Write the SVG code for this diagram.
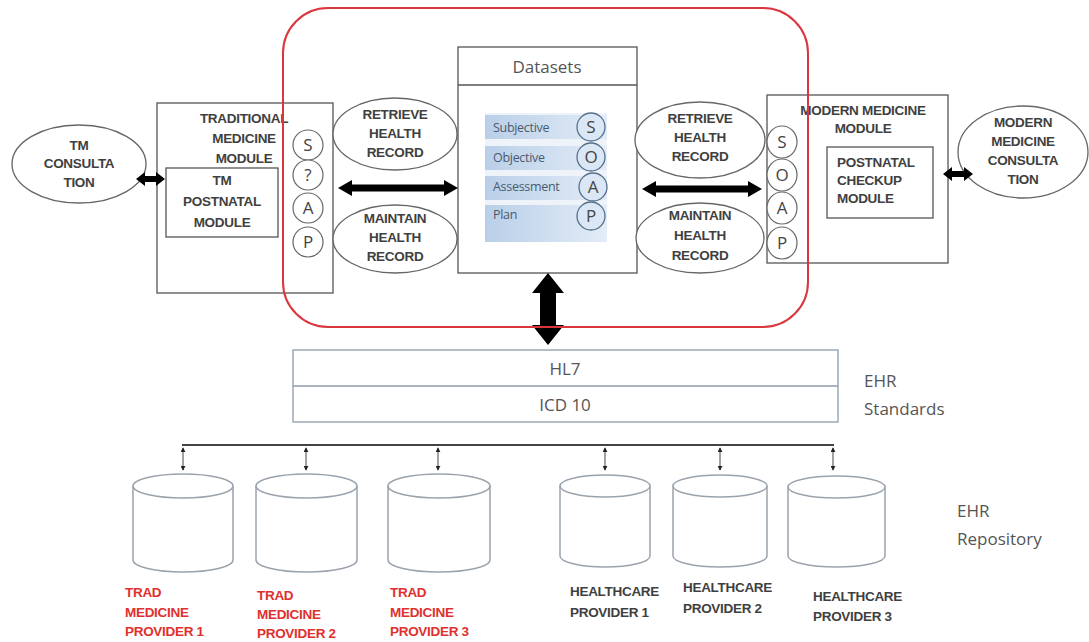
<svg xmlns="http://www.w3.org/2000/svg" width="1089" height="642" viewBox="0 0 1089 642">
<defs>
<style>
.box{fill:none;stroke:#555;stroke-width:1.3}
.ell{fill:#fff;stroke:#666;stroke-width:1.3}
.lbl{font-family:"Liberation Sans",Arial,sans-serif;font-weight:bold;font-size:13.5px;fill:#3f3f3f;letter-spacing:-0.3px}
.red{font-family:"Liberation Sans",Arial,sans-serif;font-weight:bold;font-size:13.5px;fill:#e0302e;letter-spacing:-0.3px}
.soap{fill:#fff;stroke:#666;stroke-width:1.2}
.soapt{font-family:"Open Sans","Liberation Sans",sans-serif;font-size:17px;fill:#444;text-anchor:middle}
.dsc{fill:#dbe7f4;stroke:#55708c;stroke-width:1.3}
.dst{font-family:"Open Sans","Liberation Sans",sans-serif;font-size:12.5px;fill:#4a5a6e;letter-spacing:-0.3px}
.big{font-family:"Open Sans","Liberation Sans",sans-serif;font-size:17px;fill:#555}
.cyl{fill:#fff;stroke:#9aa3ad;stroke-width:1.5}
.arr{fill:#000}
.mid{text-anchor:middle}
</style>
<linearGradient id="band" x1="0" y1="0" x2="1" y2="0">
<stop offset="0" stop-color="#b9cfe8"/>
<stop offset="1" stop-color="#e3ecf7"/>
</linearGradient>
<marker id="dot" viewBox="0 0 6 6" refX="5" refY="3" markerWidth="5" markerHeight="5" orient="auto-start-reverse" markerUnits="userSpaceOnUse">
<path d="M0 0 L6 3 L0 6 Z" fill="#222"/>
</marker>
</defs>
<rect width="1089" height="642" fill="#fff"/>

<g id="tm-consultation">
<ellipse class="ell" cx="79" cy="164" rx="67" ry="39"/>
<text class="lbl mid" x="79" y="150">TM</text>
<text class="lbl mid" x="79" y="168">CONSULTA</text>
<text class="lbl mid" x="79" y="187">TION</text>
</g>

<g id="tm-module">
<rect class="box" x="157" y="103" width="176" height="190"/>
<text class="lbl mid" x="244" y="123">TRADITIONAL</text>
<text class="lbl mid" x="244" y="143">MEDICINE</text>
<text class="lbl mid" x="244" y="163">MODULE</text>
<g id="tm-postnatal">
<rect class="box" x="166" y="168" width="112" height="69"/>
<text class="lbl mid" x="222" y="185">TM</text>
<text class="lbl mid" x="222" y="206">POSTNATAL</text>
<text class="lbl mid" x="222" y="227">MODULE</text>
</g>
<g id="tm-soap">
<ellipse class="soap" cx="308" cy="145" rx="15" ry="15"/>
<ellipse class="soap" cx="308" cy="175" rx="15" ry="15"/>
<ellipse class="soap" cx="308" cy="208" rx="15" ry="15"/>
<ellipse class="soap" cx="308" cy="242" rx="15" ry="15"/>
<text class="soapt" x="308" y="151">S</text>
<text class="soapt" x="308" y="181">?</text>
<text class="soapt" x="308" y="214">A</text>
<text class="soapt" x="308" y="248">P</text>
</g>
</g>

<g id="retrieve-left">
<ellipse class="ell" cx="395" cy="134" rx="62" ry="36"/>
<text class="lbl mid" x="395" y="119">RETRIEVE</text>
<text class="lbl mid" x="395" y="138">HEALTH</text>
<text class="lbl mid" x="395" y="157">RECORD</text>
</g>
<g id="maintain-left">
<ellipse class="ell" cx="395" cy="239" rx="62" ry="34"/>
<text class="lbl mid" x="395" y="223">MAINTAIN</text>
<text class="lbl mid" x="395" y="242">HEALTH</text>
<text class="lbl mid" x="395" y="261">RECORD</text>
</g>

<g id="datasets">
<rect x="458" y="47" width="179" height="226" fill="#fff" stroke="#555" stroke-width="1.3"/>
<line x1="458" y1="85" x2="637" y2="85" stroke="#555" stroke-width="1.3"/>
<text class="big mid" x="547" y="73">Datasets</text>
<rect x="485" y="113" width="122" height="129" fill="#eef3fa"/>
<rect x="485" y="115" width="122" height="24" fill="url(#band)"/>
<rect x="485" y="146" width="122" height="24" fill="url(#band)"/>
<rect x="485" y="176" width="122" height="24" fill="url(#band)"/>
<rect x="485" y="205" width="122" height="37" fill="url(#band)"/>
<text class="dst" x="493" y="132">Subjective</text>
<text class="dst" x="493" y="162">Objective</text>
<text class="dst" x="493" y="191">Assessment</text>
<text class="dst" x="493" y="219">Plan</text>
<circle class="dsc" cx="591" cy="127" r="14"/>
<circle class="dsc" cx="591" cy="157" r="14"/>
<circle class="dsc" cx="593" cy="187" r="14"/>
<circle class="dsc" cx="591" cy="216" r="14"/>
<text class="soapt" x="591" y="133">S</text>
<text class="soapt" x="591" y="163">O</text>
<text class="soapt" x="593" y="193">A</text>
<text class="soapt" x="591" y="222">P</text>
</g>

<g id="retrieve-right">
<ellipse class="ell" cx="700" cy="140" rx="65" ry="38"/>
<text class="lbl mid" x="700" y="123">RETRIEVE</text>
<text class="lbl mid" x="700" y="142">HEALTH</text>
<text class="lbl mid" x="700" y="161">RECORD</text>
</g>
<g id="maintain-right">
<ellipse class="ell" cx="700" cy="238" rx="64" ry="35"/>
<text class="lbl mid" x="700" y="220">MAINTAIN</text>
<text class="lbl mid" x="700" y="240">HEALTH</text>
<text class="lbl mid" x="700" y="260">RECORD</text>
</g>

<g id="mm-module">
<rect class="box" x="767" y="95" width="181" height="168"/>
<text class="lbl mid" x="863" y="115">MODERN MEDICINE</text>
<text class="lbl mid" x="863" y="133">MODULE</text>
<g id="mm-postnatal">
<rect class="box" x="827" y="147" width="106" height="71"/>
<text class="lbl" x="837" y="167">POSTNATAL</text>
<text class="lbl" x="837" y="185">CHECKUP</text>
<text class="lbl" x="837" y="203">MODULE</text>
</g>
<g id="mm-soap">
<ellipse class="soap" cx="782" cy="142" rx="15" ry="16"/>
<ellipse class="soap" cx="782" cy="175" rx="15" ry="16"/>
<ellipse class="soap" cx="782" cy="208" rx="15" ry="16"/>
<ellipse class="soap" cx="782" cy="243" rx="15" ry="16"/>
<text class="soapt" x="782" y="148">S</text>
<text class="soapt" x="782" y="181">O</text>
<text class="soapt" x="782" y="214">A</text>
<text class="soapt" x="782" y="249">P</text>
</g>
</g>

<g id="mm-consultation">
<ellipse class="ell" cx="1023" cy="152" rx="65" ry="46"/>
<text class="lbl mid" x="1023" y="127">MODERN</text>
<text class="lbl mid" x="1023" y="146">MEDICINE</text>
<text class="lbl mid" x="1023" y="165">CONSULTA</text>
<text class="lbl mid" x="1023" y="184">TION</text>
</g>

<g id="ehr-standards">
<rect x="293" y="350" width="545" height="72" fill="#fff" stroke="#8d9cab" stroke-width="1.3"/>
<line x1="293" y1="386" x2="838" y2="386" stroke="#8d9cab" stroke-width="1.3"/>
<text class="big mid" x="565" y="375">HL7</text>
<text class="big mid" x="565" y="411">ICD 10</text>
<text class="big" x="864" y="387" font-size="18">EHR</text>
<text class="big" x="864" y="415" font-size="18">Standards</text>
</g>

<g id="repo-trad1">
<path class="cyl" d="M133 486 L133 560 A50 12 0 0 0 233 560 L233 486"/>
<ellipse class="cyl" cx="183" cy="486" rx="50" ry="12"/>
<text class="red" x="125" y="597">TRAD</text>
<text class="red" x="125" y="617">MEDICINE</text>
<text class="red" x="125" y="636">PROVIDER 1</text>
</g>
<g id="repo-trad2">
<path class="cyl" d="M256 486 L256 560 A50.5 12 0 0 0 357 560 L357 486"/>
<ellipse class="cyl" cx="306.5" cy="486" rx="50.5" ry="12"/>
<text class="red" x="257" y="600">TRAD</text>
<text class="red" x="257" y="619">MEDICINE</text>
<text class="red" x="257" y="638">PROVIDER 2</text>
</g>
<g id="repo-trad3">
<path class="cyl" d="M388 486 L388 560 A51 12 0 0 0 490 560 L490 486"/>
<ellipse class="cyl" cx="439" cy="486" rx="51" ry="12"/>
<text class="red" x="390" y="597">TRAD</text>
<text class="red" x="390" y="617">MEDICINE</text>
<text class="red" x="390" y="636">PROVIDER 3</text>
</g>
<g id="repo-hc1">
<path class="cyl" d="M560 486 L560 556 A45 11 0 0 0 650 556 L650 486"/>
<ellipse class="cyl" cx="605" cy="486" rx="45" ry="11"/>
<text class="lbl" x="570" y="596">HEALTHCARE</text>
<text class="lbl" x="570" y="617">PROVIDER 1</text>
</g>
<g id="repo-hc2">
<path class="cyl" d="M673 486 L673 556 A47 11 0 0 0 767 556 L767 486"/>
<ellipse class="cyl" cx="720" cy="486" rx="47" ry="11"/>
<text class="lbl" x="683" y="592">HEALTHCARE</text>
<text class="lbl" x="683" y="613">PROVIDER 2</text>
</g>
<g id="repo-hc3">
<path class="cyl" d="M788 487 L788 556 A48.5 11 0 0 0 885 556 L885 487"/>
<ellipse class="cyl" cx="836.5" cy="487" rx="48.5" ry="11"/>
<text class="lbl" x="813" y="601">HEALTHCARE</text>
<text class="lbl" x="813" y="621">PROVIDER 3</text>
</g>
<g id="ehr-repository-label">
<text class="big" x="957" y="517" font-size="18">EHR</text>
<text class="big" x="957" y="545" font-size="18">Repository</text>
</g>

<g id="connectors">
<path class="arr" d="M136 179 L145 172 L145 176 L156 176 L156 172 L165 179 L156 186 L156 182 L145 182 L145 186 Z"/>
<path class="arr" d="M338 188 L352 180 L352 184.5 L444 184.5 L444 180 L458 188 L444 196 L444 191.5 L352 191.5 L352 196 Z"/>
<path class="arr" d="M642 189 L656 181 L656 185.5 L748 185.5 L748 181 L762 189 L748 197 L748 192.5 L656 192.5 L656 197 Z"/>
<path class="arr" d="M943 174 L952 167 L952 171 L964 171 L964 167 L973 174 L964 181 L964 177 L952 177 L952 181 Z"/>
<path class="arr" d="M548 273 L564 293 L556 293 L556 325 L564 325 L548 345 L532 325 L540 325 L540 293 L532 293 Z"/>
<line x1="182" y1="445" x2="834" y2="445" stroke="#444" stroke-width="2.2"/>
<g stroke="#444" stroke-width="1" fill="none" marker-start="url(#dot)" marker-end="url(#dot)">
<line x1="183" y1="448" x2="183" y2="470"/>
<line x1="306" y1="448" x2="306" y2="470"/>
<line x1="438" y1="448" x2="438" y2="470"/>
<line x1="605" y1="448" x2="605" y2="470"/>
<line x1="720" y1="448" x2="720" y2="470"/>
<line x1="833" y1="448" x2="833" y2="470"/>
</g>
</g>

<g id="core-boundary">
<rect x="283" y="8" width="525" height="319" rx="45" ry="45" fill="none" stroke="#d9363e" stroke-width="2"/>
</g>
</svg>
